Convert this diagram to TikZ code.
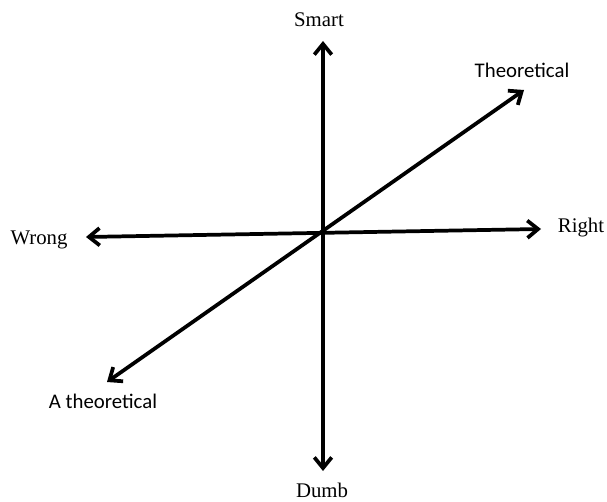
\documentclass[tikz,border=0pt]{standalone}
\usepackage{fontspec}
\setmainfont{Liberation Serif}
\newfontfamily\calibrifont{Carlito}
\usetikzlibrary{arrows.meta}

\begin{document}
\begin{tikzpicture}[
      x=0.75pt,y=-0.75pt,
      font=\fontsize{15.6}{18}\selectfont,
      axis/.style={{Straight Barb[length=8pt,width=13pt,line width=2.8pt]}-{Straight Barb[length=8pt,width=13pt,line width=2.8pt]},line width=2.8pt},
      serifl/.style={inner sep=0pt},
      sansl/.style={inner sep=0pt,font=\calibrifont\fontsize{15.6}{18}\selectfont}
    ]
      \useasboundingbox (0,0) rectangle (607,502);
      % arrow tips
      \coordinate (smarttip) at (323,41);
      \coordinate (dumbtip) at (323,471);
      \coordinate (wrongtip) at (86,237);
      \coordinate (righttip) at (541,229);
      \coordinate (atheotip) at (107,382);
      \coordinate (theotip) at (524,90);
      % labels
      \node[serifl] (smart) at (319,20) {Smart};
      \node[serifl] (dumb) at (322,490) {Dumb};
      \node[serifl] (wrong) at (39,240) {Wrong};
      \node[serifl] (right) at (581,228) {Right};
      \node[sansl] (theo) at (522,70) {Theoretical};
      \node[sansl] (atheo) at (103,401) {A theoretical};
      % axes
      \draw[axis] (dumbtip) -- (smarttip);
      \draw[axis] (wrongtip) -- (righttip);
      \draw[axis] (atheotip) -- (theotip);
\end{tikzpicture}
\end{document}
